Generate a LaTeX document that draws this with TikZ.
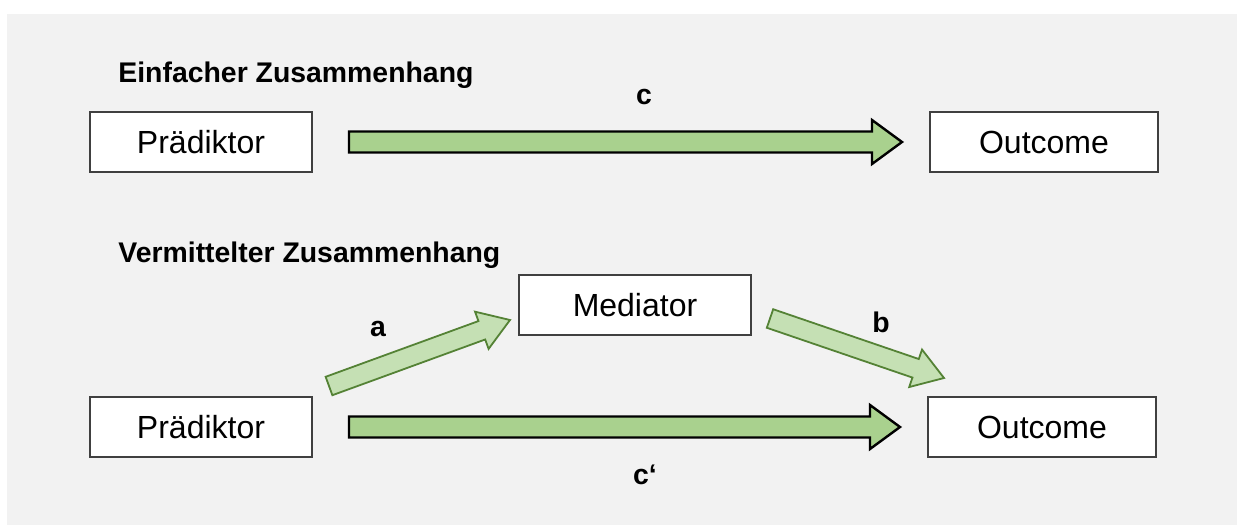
\documentclass[tikz,border=0pt]{standalone}
\usepackage{fontspec}
\setmainfont{Liberation Sans}
\usetikzlibrary{calc}

\definecolor{panelgray}{HTML}{F2F2F2}
\definecolor{boxline}{HTML}{404040}
\definecolor{pathfill}{HTML}{A9D18E}
\definecolor{medfill}{HTML}{C5E0B4}
\definecolor{mededge}{HTML}{548235}

\tikzset{
  % block arrow: shaft half width / head half width / head length
  fat arrow/.style n args={3}{
    to path={
      ($(\tikztotarget)!#3!(\tikztostart)$) coordinate (hb)
      ($(\tikztostart)!#1!90:(\tikztotarget)$)
      -- ($(hb)!#1!90:(\tikztotarget)$)
      -- ($(hb)!#2!90:(\tikztotarget)$)
      -- (\tikztotarget)
      -- ($(hb)!#2!-90:(\tikztotarget)$)
      -- ($(hb)!#1!-90:(\tikztotarget)$)
      -- ($(\tikztostart)!#1!-90:(\tikztotarget)$)
      -- cycle
    }
  },
  varbox/.style={draw=boxline, fill=white, line width=1pt, minimum height=30pt,
    inner sep=0pt, font=\fontsize{16}{19}\selectfont},
  pathlabel/.style={font=\fontsize{14.2}{17}\selectfont\bfseries},
  bigarrow/.style={fat arrow={5.25pt}{11pt}{15pt}, draw=black, fill=pathfill,
    line width=1.2pt, miter limit=4},
  medarrow/.style={fat arrow={4.9pt}{9.9pt}{15pt}, draw=mededge, fill=medfill,
    line width=0.9pt, miter limit=4}
}

\begin{document}
\begin{tikzpicture}[x=0.5pt, y=-0.5pt]
\useasboundingbox (0,0) rectangle (1237,525);
\fill[panelgray] (7,14) rectangle (1237,525);

% simple relation
\node[pathlabel, anchor=west, inner sep=0pt] (t1) at (118,75) {Einfacher Zusammenhang};
\node[varbox, minimum width=111pt] (p1) at (201,142) {Prädiktor};
\node[varbox, minimum width=114pt] (o1) at (1044,142) {Outcome};
\draw[bigarrow] ([shift={(36,0)}]p1.east) to ([shift={(-27,0)}]o1.west);
\node[pathlabel] (c) at (644,97) {c};

% mediated relation
\node[pathlabel, anchor=west, inner sep=0pt] (t2) at (118,255) {Vermittelter Zusammenhang};
\node[varbox, minimum width=111pt] (p2) at (201,427) {Prädiktor};
\node[varbox, minimum width=116pt] (m) at (635,305) {Mediator};
\node[varbox, minimum width=114pt] (o2) at (1042,427) {Outcome};
\draw[medarrow] ([shift={(16,-10)}]p2.north east) to ([shift={(-8,-16)}]m.south west);
\draw[medarrow] ([shift={(18,13.5)}]m.east) to ([shift={(17,-18)}]o2.north west);
\draw[bigarrow] ([shift={(36,0)}]p2.east) to ([shift={(-27,0)}]o2.west);
\node[pathlabel] (a) at (378,329) {a};
\node[pathlabel] (b) at (881,322) {b};
\node[pathlabel] (c2) at (645,475) {c‘};
\end{tikzpicture}
\end{document}
